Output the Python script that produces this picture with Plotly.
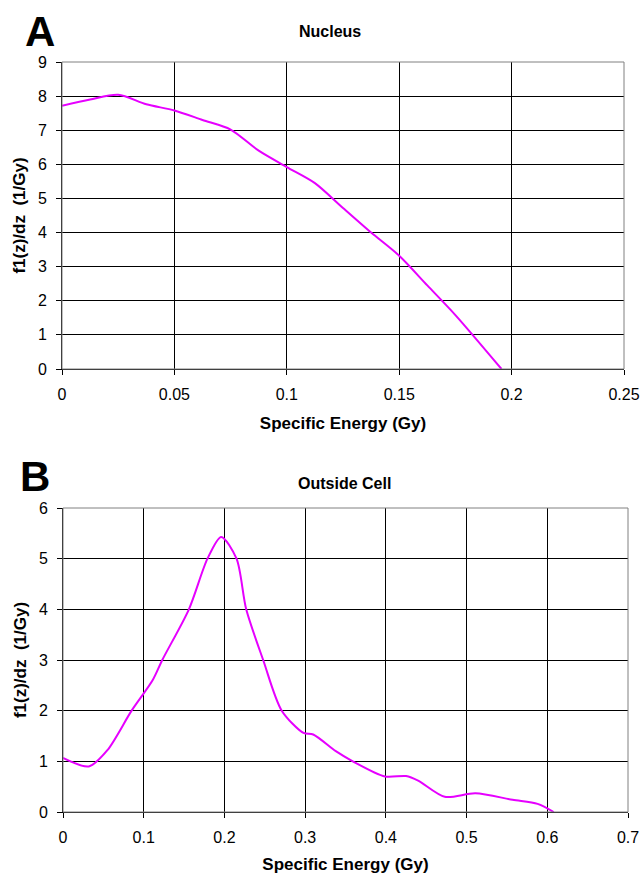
import plotly.graph_objects as go

# Panel A: Nucleus
nuc_x = [0, 0.0125, 0.025, 0.0375, 0.05, 0.0625, 0.075, 0.0875, 0.1, 0.1125, 0.125, 0.1375, 0.15, 0.1625, 0.175, 0.1955]
nuc_y = [7.72, 7.9, 8.04, 7.76, 7.58, 7.3, 7.02, 6.4, 5.92, 5.45, 4.72, 4.0, 3.32, 2.45, 1.58, 0.0]

# Panel B: Outside Cell
out_x = [0, 0.032, 0.055, 0.085, 0.111, 0.123, 0.156, 0.179, 0.196, 0.215, 0.227, 0.248, 0.271,
         0.298, 0.31, 0.338, 0.359, 0.399, 0.425, 0.44, 0.473, 0.511, 0.557, 0.588, 0.608]
out_y = [1.07, 0.9, 1.22, 2.0, 2.6, 3.0, 4.0, 5.0, 5.43, 5.0, 4.0, 3.0, 2.0,
         1.56, 1.53, 1.2, 1.0, 0.7, 0.71, 0.62, 0.30, 0.37, 0.24, 0.16, 0.0]

x_ticks_a = [0, 0.05, 0.1, 0.15, 0.2, 0.25]
x_ticklabels_a = ["0", "0.05", "0.1", "0.15", "0.2", "0.25"]
y_ticks_a = list(range(0, 10))
x_ticks_b = [0, 0.1, 0.2, 0.3, 0.4, 0.5, 0.6, 0.7]
x_ticklabels_b = ["0", "0.1", "0.2", "0.3", "0.4", "0.5", "0.6", "0.7"]
y_ticks_b = list(range(0, 7))

W, H = 644, 874
LINE = "#E600FF"
FONT = "Liberation Sans, Arial, sans-serif"

fig = go.Figure()
fig.add_trace(go.Scatter(x=nuc_x, y=nuc_y, mode="lines", xaxis="x", yaxis="y",
                         line=dict(color=LINE, width=2, shape="spline", smoothing=0.8),
                         showlegend=False, hoverinfo="skip"))
fig.add_trace(go.Scatter(x=out_x, y=out_y, mode="lines", xaxis="x2", yaxis="y2",
                         line=dict(color=LINE, width=2, shape="spline", smoothing=0.8),
                         showlegend=False, hoverinfo="skip"))

def px_x(p):
    return p / W

def px_y(p):
    return 1 - p / H

axis_common = dict(
    showgrid=True, gridcolor="#000000", gridwidth=1,
    showline=True, linecolor="#000000", linewidth=1,
    ticks="outside", ticklen=5, tickcolor="#000000",
    tickfont=dict(family=FONT, size=16, color="#000000"),
    zeroline=False, automargin=False,
)
title_font = dict(family=FONT, size=17, color="#000000")

fig.update_layout(
    width=W, height=H,
    margin=dict(l=0, r=0, t=0, b=0),
    paper_bgcolor="white", plot_bgcolor="white",
    xaxis=dict(domain=[px_x(62), px_x(624)], range=[0, 0.25], tickvals=x_ticks_a,
               ticktext=x_ticklabels_a, anchor="y", ticklabelstandoff=6,
               title=dict(text="<b>Specific Energy (Gy)</b>", font=title_font, standoff=14),
               **axis_common),
    yaxis=dict(domain=[px_y(369), px_y(62)], range=[0, 9], tickvals=y_ticks_a, anchor="x",
               ticklabelstandoff=6,
               title=dict(text="<b>f1(z)/dz  (1/Gy)</b>", font=title_font, standoff=7),
               **axis_common),
    xaxis2=dict(domain=[px_x(63), px_x(628)], range=[0, 0.7], tickvals=x_ticks_b,
                ticktext=x_ticklabels_b, anchor="y2", ticklabelstandoff=6,
                title=dict(text="<b>Specific Energy (Gy)</b>", font=title_font, standoff=14),
                **axis_common),
    yaxis2=dict(domain=[px_y(812), px_y(508)], range=[0, 6], tickvals=y_ticks_b, anchor="x2",
                ticklabelstandoff=6,
                title=dict(text="<b>f1(z)/dz  (1/Gy)</b>", font=title_font, standoff=7),
                **axis_common),
)

# Plot frame (grey top/right edges)
for xr, yr in (("x domain", "y domain"), ("x2 domain", "y2 domain")):
    fig.add_shape(type="rect", xref=xr, yref=yr, x0=0, x1=1, y0=0, y1=1,
                  line=dict(color="#808080", width=1), layer="above")

annotations = [
    dict(text="<b>A</b>", x=px_x(40), y=px_y(31), font=dict(family=FONT, size=42, color="#000")),
    dict(text="<b>Nucleus</b>", x=px_x(330), y=px_y(31), font=dict(family=FONT, size=16, color="#000")),
    dict(text="<b>B</b>", x=px_x(35), y=px_y(477), font=dict(family=FONT, size=42, color="#000")),
    dict(text="<b>Outside Cell</b>", x=px_x(344), y=px_y(483), font=dict(family=FONT, size=16, color="#000")),
]
for a in annotations:
    fig.add_annotation(xref="paper", yref="paper", showarrow=False,
                       xanchor="center", yanchor="middle", **a)

fig.write_html("out.html", config={"displayModeBar": False},
               post_script="document.body.style.margin='0';")
